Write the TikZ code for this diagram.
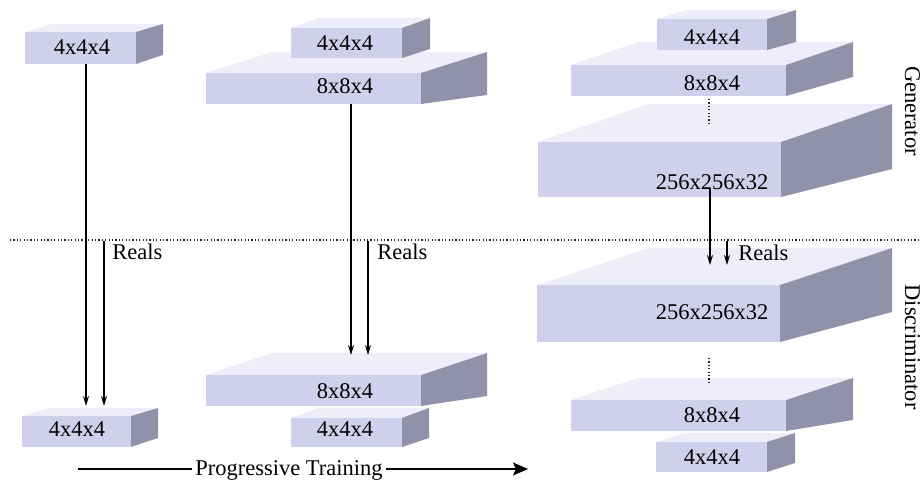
\documentclass[tikz,border=0pt]{standalone}
\usepackage{fontspec}
\setmainfont{Liberation Serif}
\usetikzlibrary{arrows.meta}
\definecolor{boxfront}{RGB}{208,208,236}
\definecolor{boxtop}{RGB}{238,238,250}
\definecolor{boxside}{RGB}{145,145,170}
\newcommand\cuboid[7]{% x1,x2,ytop,ybot,dx,backtop,backbot
  \fill[boxtop] (#1,#3) -- ({#1+#5},#6) -- ({#2+#5},#6) -- (#2,#3) -- cycle;
  \fill[boxside] (#2,#3) -- ({#2+#5},#6) -- ({#2+#5},#7) -- (#2,#4) -- cycle;
  \fill[boxfront] (#1,#3) rectangle (#2,#4);
}
\begin{document}
\begin{tikzpicture}[x=0.5pt,y=-0.5pt,
  font=\fontsize{11.25}{13.5}\selectfont,
  lbl/.style={inner sep=0pt},
  arr/.style={-{Stealth[length=5pt,width=3pt]}, line width=0.75pt},
  sep/.style={line width=0.6pt, black!85, dash pattern=on 0.6pt off 1.1pt},
  bigarr/.style={-{Stealth[length=7.5pt,width=6.5pt,inset=1.5pt]}, line width=0.7pt}]
\useasboundingbox (0,0) rectangle (921,480);
% column 1
\cuboid{25}{136}{32}{64}{27}{24}{55}
\cuboid{22}{131}{416}{447}{27}{408}{438}
% column 2
\cuboid{206}{421}{73}{104}{66}{52}{95}
\cuboid{291}{402}{28}{58}{28}{18}{49}
\cuboid{206}{421}{375}{406}{66}{353}{396}
\cuboid{291}{402}{418}{447}{27}{408}{438}
% column 3
\cuboid{571}{786}{65}{96}{67}{42}{77}
\cuboid{657}{767}{19}{50}{29}{10}{42}
\cuboid{538}{781}{142}{197}{111}{104}{169}
\cuboid{537}{780}{285}{342}{112}{248}{312}
\cuboid{571}{786}{400}{431}{67}{378}{420}
\cuboid{656}{767}{442}{472}{28}{433}{463}
% labels
\node[lbl] (t1) at (82,47) {4x4x4};
\node[lbl] (t2) at (77,429) {4x4x4};
\node[lbl] (t3) at (345,43) {4x4x4};
\node[lbl] (t4) at (345,86) {8x8x4};
\node[lbl] (t5) at (345,391) {8x8x4};
\node[lbl] (t6) at (345,429) {4x4x4};
\node[lbl] (t7) at (712,37) {4x4x4};
\node[lbl] (t8) at (712,83) {8x8x4};
\node[lbl] (t9) at (712,182) {256x256x32};
\node[lbl] (t10) at (712,312) {256x256x32};
\node[lbl] (t11) at (712,415) {8x8x4};
\node[lbl] (t12) at (712,457) {4x4x4};
\node[lbl,anchor=west] (r1) at (112,252) {Reals};
\node[lbl,anchor=west] (r2) at (377,252) {Reals};
\node[lbl,anchor=west] (r3) at (738,253) {Reals};
\node[rotate=-90,anchor=base,inner sep=0pt] (gen) at (905,111) {Generator};
\node[rotate=-90,anchor=base,inner sep=0pt] (disc) at (905,347) {Discriminator};
\node[anchor=base,inner sep=1.5pt] (pt) at (289,476) {Progressive Training};
% coordinates
\coordinate (sl) at (10,240);
\coordinate (sr) at (919,240);
\coordinate (g1) at (86,64);   \coordinate (d1) at (86,406);
\coordinate (q1) at (104,241); \coordinate (e1) at (104,406);
\coordinate (g2) at (351,104); \coordinate (d2) at (351,355);
\coordinate (q2) at (368,241); \coordinate (e2) at (368,355);
\coordinate (g3) at (710,189); \coordinate (d3) at (710,265);
\coordinate (q3) at (727,241); \coordinate (e3) at (727,265);
\coordinate (ua) at (709,99);  \coordinate (ub) at (709,124);
\coordinate (la) at (709,358); \coordinate (lb) at (709,383);
\coordinate (pl) at (78,469);  \coordinate (pr) at (528,469);
% connectors
\draw[sep] (sl) -- (sr);
\draw[sep] (ua) -- (ub);
\draw[sep] (la) -- (lb);
\draw[arr] (g1) -- (d1);
\draw[arr] (q1) -- (e1);
\draw[arr] (g2) -- (d2);
\draw[arr] (q2) -- (e2);
\draw[arr] (g3) -- (d3);
\draw[arr] (q3) -- (e3);
\draw[line width=0.7pt] (pl) -- (pt.west |- pl);
\draw[bigarr] (pt.east |- pr) -- (pr);
\end{tikzpicture}
\end{document}
